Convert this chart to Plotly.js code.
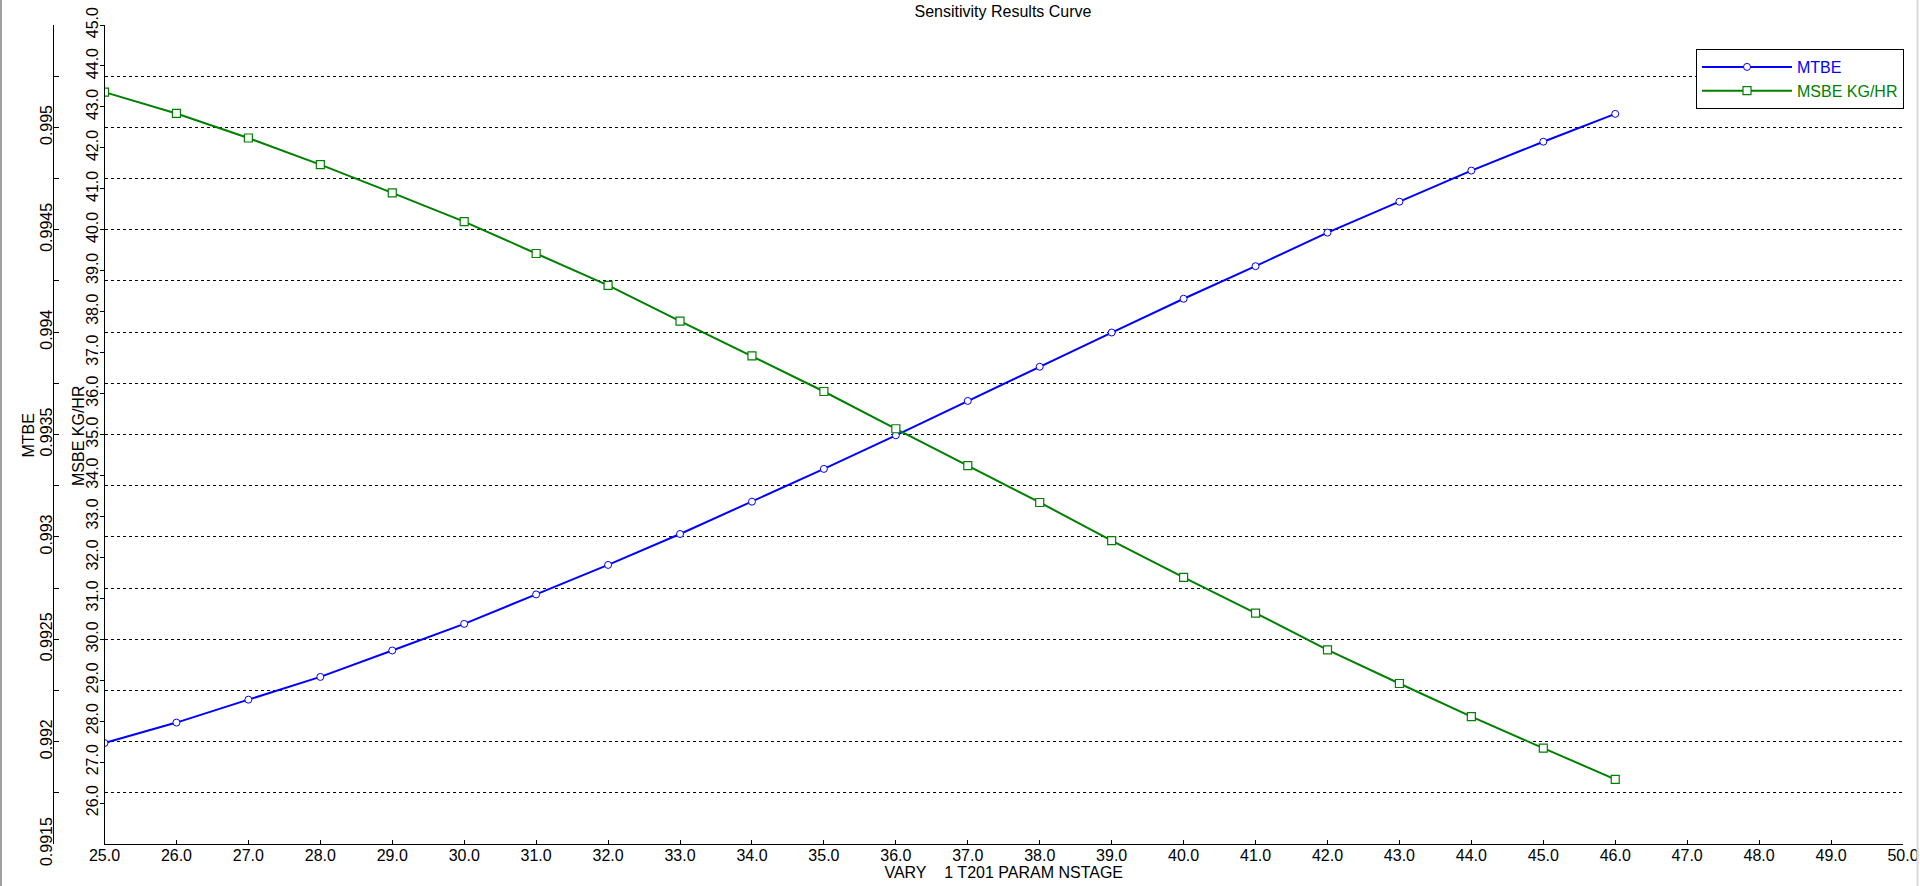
<!DOCTYPE html>
<html>
<head>
<meta charset="utf-8">
<script src="https://cdn.plot.ly/plotly-3.0.1.min.js"></script>
<style>
html,body{margin:0;padding:0;background:#fff;}
#chart{width:1920px;height:886px;}
</style>
</head>
<body>
<div id="chart"></div>
<script>
// ---- data ----
const stages = [25, 26, 27, 28, 29, 30, 31, 32, 33, 34, 35, 36, 37, 38, 39, 40, 41, 42, 43, 44, 45, 46];
const mtbe = [0.991993, 0.992093, 0.992205, 0.992316, 0.992445, 0.992575, 0.992719, 0.992863, 0.993014, 0.993172, 0.993332,
              0.993496, 0.993664, 0.993831, 0.993998, 0.994163, 0.994322, 0.994486, 0.994637, 0.994789, 0.994930, 0.995066];
const msbe = [43.36, 42.84, 42.24, 41.59, 40.90, 40.20, 39.42, 38.64, 37.77, 36.92, 36.05,
              35.14, 34.24, 33.34, 32.41, 31.51, 30.64, 29.74, 28.92, 28.11, 27.34, 26.58];

const mtbeTickVals = [0.9915, 0.99175, 0.992, 0.99225, 0.9925, 0.99275, 0.993, 0.99325, 0.9935,
                      0.99375, 0.994, 0.99425, 0.9945, 0.99475, 0.995, 0.99525, 0.9955];
const mtbeTickText = ['0.9915', '', '0.992', '', '0.9925', '', '0.993', '', '0.9935',
                      '', '0.994', '', '0.9945', '', '0.995', '', '0.9955'];
const msbeTickVals = [26, 27, 28, 29, 30, 31, 32, 33, 34, 35, 36, 37, 38, 39, 40, 41, 42, 43, 44, 45];
const xTickVals = [25, 26, 27, 28, 29, 30, 31, 32, 33, 34, 35, 36, 37, 38, 39, 40, 41, 42, 43, 44, 45, 46, 47, 48, 49, 50];

const FONT = 'Liberation Sans, Arial, sans-serif';
const W = 1920, H = 886;
const ML = 0, MR = 17, MT = 25, MB = 42;
const plotW = W - ML - MR, plotH = H - MT - MB;
const px = v => (v - ML) / plotW;
const py = v => (H - MB - v) / plotH;

const traces = [
  {
    x: stages, y: mtbe, name: '<span style="color:#0000ff">MTBE</span>',
    type: 'scatter', mode: 'lines+markers', yaxis: 'y',
    line: {color: '#0000ff', width: 2},
    marker: {symbol: 'circle', size: 7, color: '#ffffff', line: {color: '#0000ff', width: 1}}
  },
  {
    x: stages, y: msbe, name: '<span style="color:#008000">MSBE KG/HR</span>',
    type: 'scatter', mode: 'lines+markers', yaxis: 'y2',
    line: {color: '#008000', width: 2},
    marker: {symbol: 'square', size: 8, color: '#ffffff', line: {color: '#008000', width: 1.2}}
  }
];

const layout = {
  width: W, height: H,
  margin: {l: ML, r: MR, t: MT, b: MB, pad: 0},
  paper_bgcolor: '#ffffff', plot_bgcolor: '#ffffff',
  font: {family: FONT, size: 16, color: '#000000'},
  showlegend: true,
  title: {
    text: 'Sensitivity Results Curve',
    font: {family: FONT, size: 16, color: '#000000'},
    xref: 'container', x: 1003 / W, xanchor: 'center',
    yref: 'container', y: 1 - 11 / H, yanchor: 'middle'
  },
  xaxis: {
    domain: [px(104.5), 1],
    range: [25, 50], tickvals: xTickVals, tickformat: '.1f',
    ticks: 'inside', ticklen: 4, tickcolor: '#000', tickwidth: 1,
    showline: true, linecolor: '#000', linewidth: 1,
    showgrid: false, zeroline: false,
    ticklabelstandoff: -3,
    tickfont: {family: FONT, size: 16, color: '#000'},
    title: {text: 'VARY\u00a0\u00a0\u00a0\u00a01 T201 PARAM NSTAGE', font: {family: FONT, size: 16, color: '#000'}, standoff: 0}
  },
  yaxis: {
    anchor: 'free', position: px(53), side: 'left',
    range: [0.9915, 0.9955], tickvals: mtbeTickVals, ticktext: mtbeTickText, tickangle: -90,
    ticks: 'inside', ticklen: 5, tickcolor: '#000', tickwidth: 1,
    showline: true, linecolor: '#000', linewidth: 1,
    showgrid: true, gridcolor: '#000', gridwidth: 1, griddash: '3px,3px',
    zeroline: false,
    ticklabelstandoff: -5,
    tickfont: {family: FONT, size: 16, color: '#000'}
  },
  yaxis2: {
    anchor: 'x', overlaying: 'y', side: 'left',
    range: [25, 45], tickvals: msbeTickVals, tickformat: '.1f', tickangle: -90,
    ticks: 'outside', ticklen: 4, tickcolor: '#000', tickwidth: 1,
    showline: true, linecolor: '#000', linewidth: 1,
    showgrid: false, zeroline: false,
    ticklabelstandoff: -5,
    tickfont: {family: FONT, size: 16, color: '#000'}
  },
  annotations: [
    {text: 'MTBE', xref: 'paper', yref: 'paper', x: px(27.5), y: py(436), textangle: -90,
     xanchor: 'center', yanchor: 'middle', showarrow: false, font: {family: FONT, size: 16, color: '#000'}},
    {text: 'MSBE KG/HR', xref: 'paper', yref: 'paper', x: px(78), y: py(436), textangle: -90,
     xanchor: 'center', yanchor: 'middle', showarrow: false, font: {family: FONT, size: 16, color: '#000'}}
  ],
  legend: {
    x: px(1904), xanchor: 'right', xref: 'paper',
    y: py(49), yanchor: 'top', yref: 'paper',
    bgcolor: '#ffffff', bordercolor: '#000000', borderwidth: 1,
    font: {family: FONT, size: 16, color: '#000'},
    itemwidth: 90, tracegroupgap: 0
  },
  shapes: [
    {type: 'line', xref: 'paper', yref: 'paper', x0: px(1), x1: px(1), y0: -MB / plotH, y1: 1 + MT / plotH,
     line: {color: '#a0a0a0', width: 2}},
    {type: 'line', xref: 'paper', yref: 'paper', x0: px(1917.5), x1: px(1917.5), y0: -MB / plotH, y1: 1 + MT / plotH,
     line: {color: '#d8d8d8', width: 2}}
  ]
};

Plotly.newPlot('chart', traces, layout, {displayModeBar: false, staticPlot: true});
</script>
</body>
</html>
